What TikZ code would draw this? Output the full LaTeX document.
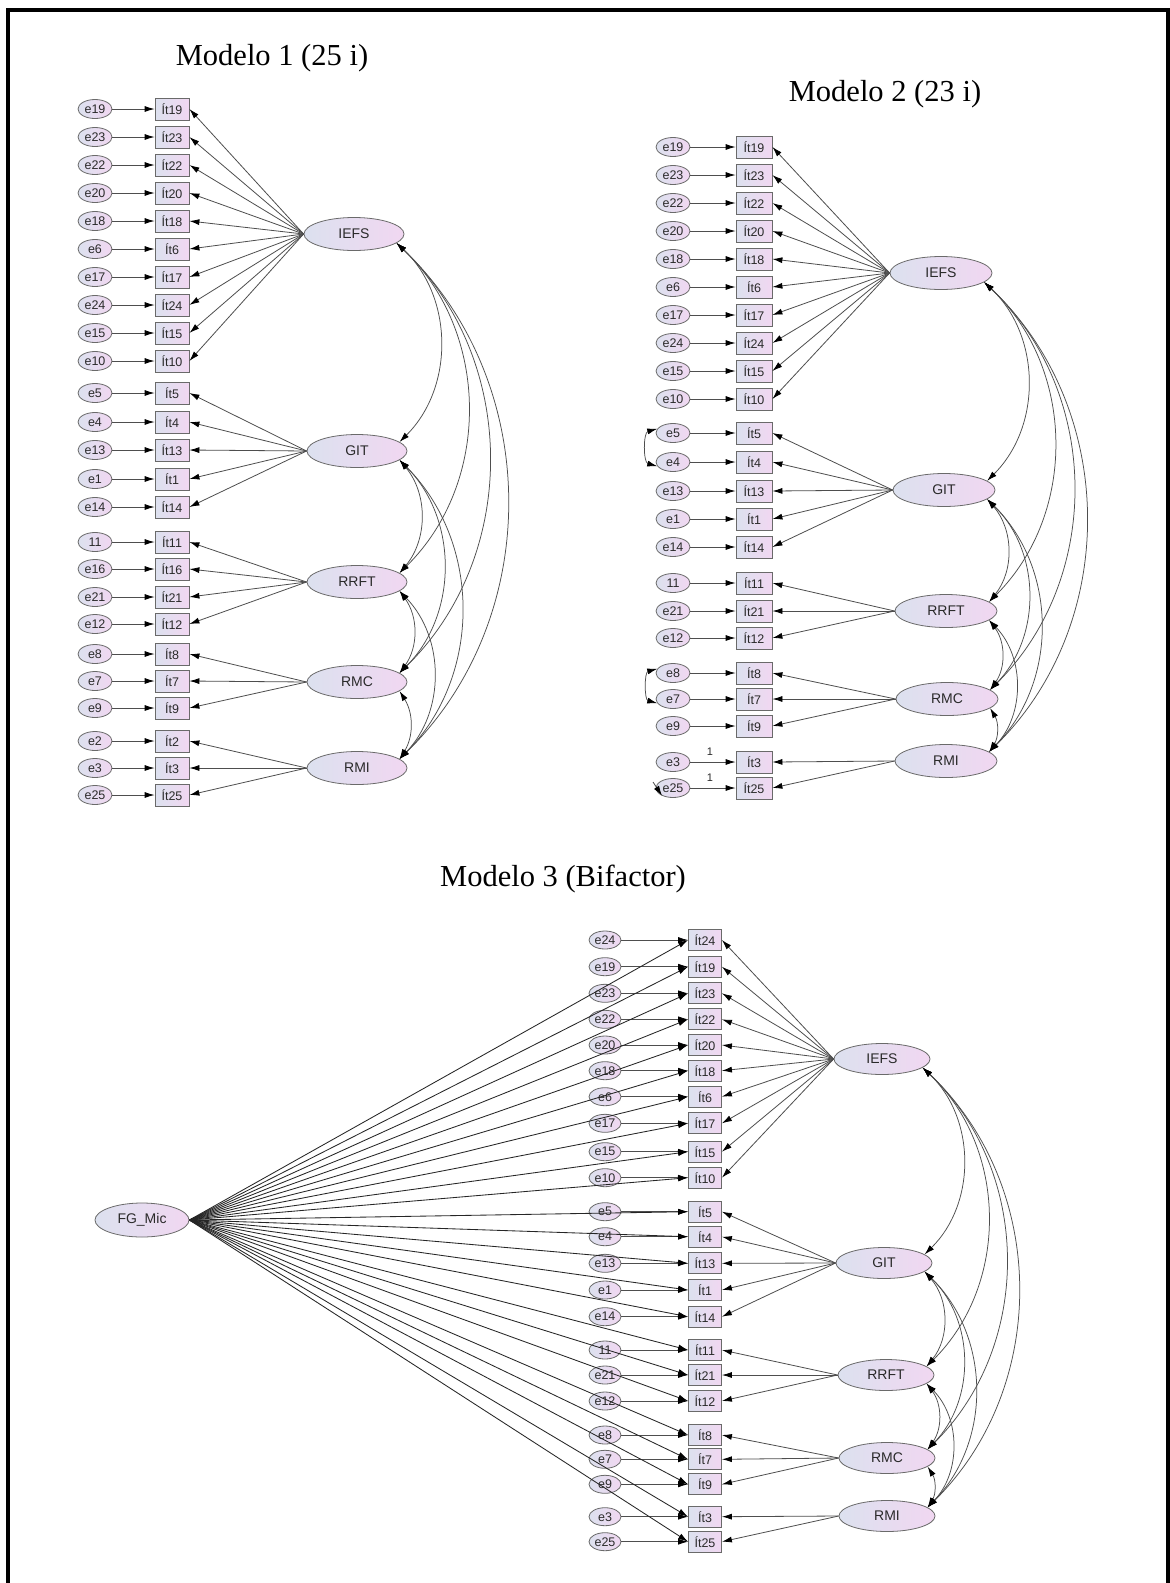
\documentclass[tikz,border=0pt]{standalone}
\usepackage{fontspec}
\setmainfont{Liberation Serif}
\setsansfont{Liberation Sans}
\usetikzlibrary{arrows.meta,shapes.geometric}
\definecolor{fillL}{HTML}{DCE1EF}
\definecolor{fillR}{HTML}{F1D7F1}
\definecolor{edgec}{HTML}{6A6A6A}
\definecolor{txt}{HTML}{2A2A2A}
\definecolor{linkc}{HTML}{4E4E4E}
\tikzset{
  lav/.style={left color=fillL, right color=fillR},
  errnode/.style={ellipse, draw=edgec, line width=0.8pt, lav, minimum width=34pt,
    minimum height=19pt, inner sep=0pt, text=txt, font=\sffamily\fontsize{12.5}{13}\selectfont},
  itemnode/.style={rectangle, draw=edgec, line width=0.8pt, lav, minimum width=34pt,
    minimum height=22pt, inner sep=0pt, text=txt, font=\sffamily\fontsize{12.5}{13}\selectfont},
  facnode/.style={ellipse, draw=edgec, line width=0.8pt, lav, minimum width=100pt,
    minimum height=33pt, inner sep=0pt, text=txt, font=\sffamily\fontsize{14}{14}\selectfont},
  tip/.tip={Latex[length=10pt,width=6pt,color=black]},
  load/.style={draw=linkc, line width=0.8pt, -tip},
  gload/.style={draw=black!85, line width=0.85pt, -tip},
  cov/.style={draw=linkc, line width=0.75pt, tip-tip},
  heading/.style={font=\fontsize{30.5}{31}\selectfont, anchor=base},
  onelab/.style={font=\sffamily\fontsize{11}{11}\selectfont, text=txt, inner sep=0pt},
}
\begin{document}
\begin{tikzpicture}[x=1pt,y=1pt]
\useasboundingbox (0,0) rectangle (1170,-1583);
\fill[white] (0,0) rectangle (1170,-1583);
\draw[line width=3.5pt] (8,-1583) -- (8,-10) -- (1168,-10) -- (1168,-1583);

% ---------------- Modelo 1 ----------------
\node[heading] (t1) at (272,-65) {Modelo 1 (25 i)};
\foreach \q/\lab/\y in {19/e19/109, 23/e23/137, 22/e22/165, 20/e20/193, 18/e18/221,
    6/e6/249, 17/e17/277, 24/e24/305, 15/e15/333, 10/e10/361,
    5/e5/393, 4/e4/422, 13/e13/450, 1/e1/479, 14/e14/507,
    11/11/542, 16/e16/569, 21/e21/597, 12/e12/624,
    8/e8/654, 7/e7/681, 9/e9/708,
    2/e2/741, 3/e3/768, 25/e25/795} {
  \node[errnode] (a\q e) at (95,-\y) {\lab};
  \node[itemnode] (a\q i) at (172,-\y) {Ít\q};
  \draw[load] (a\q e) -- (a\q i);
}
\node[facnode] (aIEFS) at (354,-234) {IEFS};
\node[facnode] (aGIT)  at (357,-451) {GIT};
\node[facnode] (aRRFT) at (357,-582) {RRFT};
\node[facnode] (aRMC)  at (357,-682) {RMC};
\node[facnode] (aRMI)  at (357,-768) {RMI};
\foreach \q in {19,23,22,20,18,6,17,24,15,10} \draw[load] (aIEFS.west) -- (a\q i.east);
\foreach \q in {5,4,13,1,14} \draw[load] (aGIT.west) -- (a\q i.east);
\foreach \q in {11,16,21,12} \draw[load] (aRRFT.west) -- (a\q i.east);
\foreach \q in {8,7,9} \draw[load] (aRMC.west) -- (a\q i.east);
\foreach \q in {2,3,25} \draw[load] (aRMI.west) -- (a\q i.east);
\foreach \s/\t/\b in {IEFS/GIT/46, IEFS/RRFT/46, IEFS/RMC/46, IEFS/RMI/46,
    GIT/RRFT/40, GIT/RMC/45, GIT/RMI/45, RRFT/RMC/36, RRFT/RMI/44, RMC/RMI/32}
  \draw[cov] (a\s.-12) to[bend left=\b] (a\t.12);

% ---------------- Modelo 2 ----------------
\node[heading] (t2) at (885,-101) {Modelo 2 (23 i)};
\foreach \q/\lab/\y in {19/e19/147, 23/e23/175, 22/e22/203, 20/e20/231, 18/e18/259,
    6/e6/287, 17/e17/315, 24/e24/343, 15/e15/371, 10/e10/399,
    5/e5/433, 4/e4/462, 13/e13/491, 1/e1/519, 14/e14/547,
    11/11/583, 21/e21/611, 12/e12/638,
    8/e8/673, 7/e7/699, 9/e9/726,
    3/e3/762, 25/e25/788} {
  \node[errnode] (b\q e) at (673,-\y) {\lab};
  \node[itemnode, minimum width=36pt] (b\q i) at (754,-\y) {Ít\q};
  \draw[load] (b\q e) -- (b\q i);
}
\node[facnode, minimum width=102pt] (bIEFS) at (941,-273) {IEFS};
\node[facnode, minimum width=102pt] (bGIT)  at (944,-490) {GIT};
\node[facnode, minimum width=102pt] (bRRFT) at (946,-611) {RRFT};
\node[facnode, minimum width=102pt] (bRMC)  at (947,-699) {RMC};
\node[facnode, minimum width=102pt] (bRMI)  at (946,-761) {RMI};
\foreach \q in {19,23,22,20,18,6,17,24,15,10} \draw[load] (bIEFS.west) -- (b\q i.east);
\foreach \q in {5,4,13,1,14} \draw[load] (bGIT.west) -- (b\q i.east);
\foreach \q in {11,21,12} \draw[load] (bRRFT.west) -- (b\q i.east);
\foreach \q in {8,7,9} \draw[load] (bRMC.west) -- (b\q i.east);
\foreach \q in {3,25} \draw[load] (bRMI.west) -- (b\q i.east);
\foreach \s/\t/\b in {IEFS/GIT/46, IEFS/RRFT/46, IEFS/RMC/46, IEFS/RMI/46,
    GIT/RRFT/40, GIT/RMC/45, GIT/RMI/45, RRFT/RMC/36, RRFT/RMI/44, RMC/RMI/32}
  \draw[cov] (b\s.-12) to[bend left=\b] (b\t.12);
% correlated residuals
\draw[cov] (b5e.165) to[bend right=75] (b4e.195);
\draw[cov] (b8e.165) to[bend right=75] (b7e.195);
\coordinate (b25tail) at (653,-782);
\draw[load] (b25tail) -- (b25e.215);
\node[onelab] (b3one)  at (710,-752) {1};
\node[onelab] (b25one) at (710,-778) {1};

% ---------------- Modelo 3 ----------------
\node[heading] (t3) at (563,-886) {Modelo 3 (Bifactor)};
\foreach \q/\lab/\y in {24/e24/940, 19/e19/966.7, 23/e23/993.3, 22/e22/1019.3, 20/e20/1045,
    18/e18/1070.7, 6/e6/1096.7, 17/e17/1123.3, 15/e15/1151.7, 10/e10/1177.7,
    5/e5/1211.7, 4/e4/1236.7, 13/e13/1263.3, 1/e1/1290, 14/e14/1316.7,
    11/11/1350, 21/e21/1375, 12/e12/1401,
    8/e8/1435, 7/e7/1459.3, 9/e9/1484.3,
    3/e3/1516.7, 25/e25/1541.7} {
  \node[errnode, minimum width=32pt, minimum height=18pt] (c\q e) at (605,-\y) {\lab};
  \node[itemnode, minimum width=33pt, minimum height=21pt] (c\q i) at (705,-\y) {Ít\q};
  \draw[load] (c\q e) -- (c\q i);
}
\node[facnode, minimum width=96pt, minimum height=31pt] (cIEFS) at (882,-1059) {IEFS};
\node[facnode, minimum width=96pt, minimum height=31pt] (cGIT)  at (884,-1263) {GIT};
\node[facnode, minimum width=96pt, minimum height=31pt] (cRRFT) at (886,-1375) {RRFT};
\node[facnode, minimum width=96pt, minimum height=31pt] (cRMC)  at (887,-1458) {RMC};
\node[facnode, minimum width=96pt, minimum height=31pt] (cRMI)  at (887,-1516) {RMI};
\node[facnode, minimum width=94pt, minimum height=34pt] (FG) at (142,-1220) {FG\_Mic};
\foreach \q in {24,19,23,22,20,18,6,17,15,10} \draw[load] (cIEFS.west) -- (c\q i.east);
\foreach \q in {5,4,13,1,14} \draw[load] (cGIT.west) -- (c\q i.east);
\foreach \q in {11,21,12} \draw[load] (cRRFT.west) -- (c\q i.east);
\foreach \q in {8,7,9} \draw[load] (cRMC.west) -- (c\q i.east);
\foreach \q in {3,25} \draw[load] (cRMI.west) -- (c\q i.east);
\foreach \s/\t/\b in {IEFS/GIT/46, IEFS/RRFT/46, IEFS/RMC/46, IEFS/RMI/46,
    GIT/RRFT/40, GIT/RMC/45, GIT/RMI/45, RRFT/RMC/36, RRFT/RMI/44, RMC/RMI/32}
  \draw[cov] (c\s.-12) to[bend left=\b] (c\t.12);
% general factor loadings
\foreach \q in {24,19,23,22,20,18,6,17,15,10,5,4,13,1,14,11,21,12,8,7,9,3,25}
  \draw[gload] (FG.east) -- (c\q i.west);
\end{tikzpicture}
\end{document}
